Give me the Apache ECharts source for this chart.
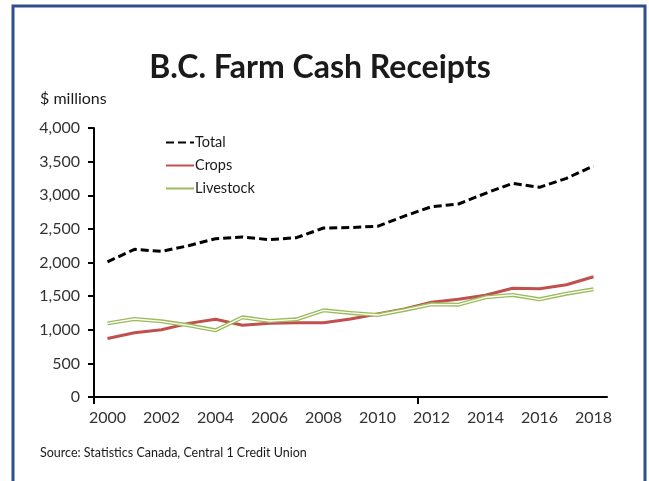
<!DOCTYPE html>
<html><head><meta charset="utf-8">
<script src="https://cdn.jsdelivr.net/npm/echarts@6/dist/echarts.min.js"></script>
<style>html,body{margin:0;padding:0;background:#fff}#c{width:649px;height:481px}</style>
</head><body><div id="c"></div>
<script>
const years = ['2000','2001','2002','2003','2004','2005','2006','2007','2008','2009','2010','2011','2012','2013','2014','2015','2016','2017','2018'];
const total = [2010,2196,2165,2250,2354,2379,2340,2369,2513,2520,2538,2691,2830,2870,3029,3177,3118,3252,3435];
const crops = [870,956,1001,1095,1155,1066,1095,1105,1105,1160,1234,1308,1408,1453,1512,1616,1611,1670,1789];
const livestock = [1095,1160,1125,1066,992,1185,1130,1155,1289,1250,1219,1294,1378,1373,1483,1517,1453,1536,1601];
const yTicks = [0,500,1000,1500,2000,2500,3000,3500,4000];

const font = 'Lato, "Open Sans", sans-serif';
const chart = echarts.init(document.getElementById('c'));
chart.setOption({
  animation: false,
  graphic: [
    {type:'rect', shape:{x:13, y:6, width:632, height:490}, style:{fill:'none', stroke:'#2f4f8c', lineWidth:3}},
    {type:'text', x:320, y:52, style:{text:'B.C. Farm Cash Receipts', font:'bold 32px '+font, fill:'#1a1a1a', align:'center'}},
    {type:'text', left:40, top:91, style:{text:'$ millions', font:'16px '+font, fill:'#1a1a1a'}},
    {type:'text', left:40, top:446, style:{text:'Source: Statistics Canada, Central 1 Credit Union', font:'12.5px '+font, fill:'#1a1a1a'}}
  ],
  legend: {
    left: 160, top: 130, orient: 'vertical', itemGap: 8, itemWidth: 28, itemHeight: 16,
    data: ['Total','Crops','Livestock'],
    itemStyle: {opacity: 0},
    textStyle: {fontFamily: font, fontSize: 14.5, color: '#1a1a1a', padding:[0,0,0,-4]}
  },
  grid: {left: 94, right: 42, top: 128, bottom: 84},
  xAxis: [{
    type: 'category', data: years, boundaryGap: true,
    axisLine: {lineStyle: {color: '#000', width: 2}},
    axisTick: {show: false},
    axisLabel: {interval: 1, fontFamily: font, fontSize: 16, color: '#333', margin: 13}
  }, {
    type: 'value', min: -0.5, max: 18.5, position: 'bottom',
    axisLine: {show: false}, axisLabel: {show: false}, splitLine: {show: false},
    axisTick: {show: true, length: 7, lineStyle:{color:'#000', width:2}, customValues: [-0.5, 11.5]}
  }],
  yAxis: {
    type: 'value', min: 0, max: 4000, interval: 500,
    axisLine: {show: true, onZero: false, lineStyle: {color: '#000', width: 2}},
    axisTick: {show: true, length: 6, lineStyle:{color:'#000', width:2}},
    splitLine: {show: false},
    axisLabel: {fontFamily: font, fontSize: 16, color: '#333', margin: 14,
      formatter: v => yTicks.includes(v) ? v.toLocaleString('en-US') : ''}
  },
  series: [
    {name:'Total', type:'line', data: total, symbol:'none', lineStyle:{color:'#000', width:3, type:[8,4]}, itemStyle:{color:'#000'}},
    {name:'Crops', type:'line', data: crops, symbol:'none', lineStyle:{color:'#c0504d', width:3}, itemStyle:{color:'#c0504d'}},
    {name:'Livestock', type:'line', data: livestock, symbol:'none', lineStyle:{color:'#9bbb59', width:4}, itemStyle:{color:'#9bbb59'}},
    {name:'LivestockInner', type:'line', data: livestock, symbol:'none', lineStyle:{color:'#fff', width:1.3}, itemStyle:{color:'#fff'}, silent:true}
  ]
});
</script></body></html>
